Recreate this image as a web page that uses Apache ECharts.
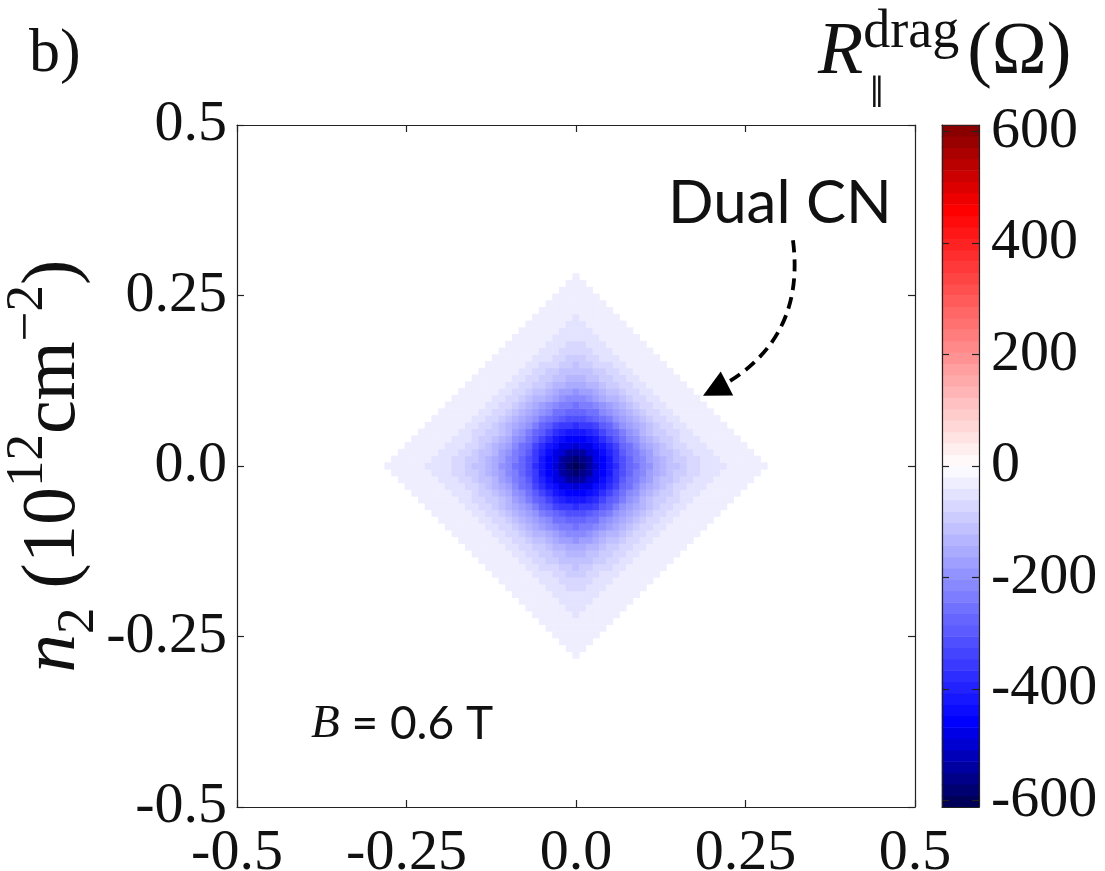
<!DOCTYPE html>
<html>
<head>
<meta charset="utf-8">
<script src="https://cdn.jsdelivr.net/npm/echarts@6/dist/echarts.min.js"></script>
<style>
html, body {margin: 0; padding: 0; background: #fff;}
#chart {width: 1105px; height: 871px;}
</style>
</head>
<body>
<div id="chart"></div>
<script>
// n1, n2 both run -0.5 .. 0.5 (10^12 cm^-2), sampled on 101 cells per side
var n_cells = 101;
var axis_ticks = [-0.5, -0.25, 0.0, 0.25, 0.5];
var cbar_ticks = [-600, -400, -200, 0, 200, 400, 600];
var cbar_min = -612;
var cbar_max = 612;
var cbar_bands = 60;

// R_drag (Ohm), one quadrant: row = |n2| cell offset, column = |n1| cell offset
// from the origin (the map is mirror symmetric about both axes); missing entries are 0
var quadrant = [
    [-600, -585, -545, -495, -455, -415, -370, -325, -285, -248, -214, -184, -158, -137, -119, -104, -91, -79, -69, -61, -54, -47, -41, -37, -33, -30, -27, -25, -23],
    [-585, -568, -533, -489, -450, -411, -366, -320, -279, -241, -206, -176, -151, -130, -112, -97, -84, -73, -64, -56, -49, -42, -38, -33, -30, -27, -25, -23],
    [-545, -533, -504, -471, -436, -398, -352, -306, -265, -227, -193, -164, -140, -120, -103, -89, -76, -66, -58, -50, -43, -38, -34, -30, -27, -25, -23],
    [-495, -489, -471, -445, -415, -373, -327, -285, -245, -209, -177, -150, -128, -109, -94, -80, -68, -60, -52, -44, -38, -34, -30, -27, -25, -23],
    [-455, -450, -436, -415, -380, -339, -299, -259, -222, -188, -158, -134, -115, -98, -83, -71, -61, -53, -45, -39, -34, -30, -27, -25, -23],
    [-415, -411, -398, -373, -339, -303, -266, -230, -196, -166, -140, -119, -102, -86, -73, -63, -54, -46, -39, -34, -30, -27, -25, -23],
    [-370, -366, -352, -327, -299, -266, -233, -200, -170, -145, -123, -104, -89, -75, -64, -55, -46, -39, -35, -30, -27, -25, -23],
    [-325, -320, -306, -285, -259, -230, -200, -172, -147, -125, -107, -91, -77, -65, -56, -47, -40, -35, -30, -27, -25, -23],
    [-285, -279, -265, -245, -222, -196, -170, -147, -126, -108, -92, -78, -66, -56, -47, -40, -35, -30, -27, -25, -23],
    [-248, -241, -227, -209, -188, -166, -145, -125, -108, -92, -78, -66, -57, -48, -40, -35, -30, -27, -25, -23],
    [-214, -206, -193, -177, -158, -140, -123, -107, -92, -78, -67, -57, -48, -40, -35, -30, -27, -25, -23],
    [-184, -176, -164, -150, -134, -119, -104, -91, -78, -66, -57, -48, -40, -35, -30, -27, -25, -23],
    [-158, -151, -140, -128, -115, -102, -89, -77, -66, -57, -48, -40, -35, -30, -27, -25, -23],
    [-137, -130, -120, -109, -98, -86, -75, -65, -56, -48, -40, -35, -30, -27, -25, -23],
    [-119, -112, -103, -94, -83, -73, -64, -56, -47, -40, -35, -30, -27, -25, -23],
    [-104, -97, -89, -80, -71, -63, -55, -47, -40, -35, -30, -27, -25, -23],
    [-91, -84, -76, -68, -61, -54, -46, -40, -35, -30, -27, -25, -23],
    [-79, -73, -66, -60, -53, -46, -39, -35, -30, -27, -25, -23],
    [-69, -64, -58, -52, -45, -39, -35, -30, -27, -25, -23],
    [-61, -56, -50, -44, -39, -34, -30, -27, -25, -23],
    [-54, -49, -43, -38, -34, -30, -27, -25, -23],
    [-47, -42, -38, -34, -30, -27, -25, -23],
    [-41, -38, -34, -30, -27, -25, -23],
    [-37, -33, -30, -27, -25, -23],
    [-33, -30, -27, -25, -23],
    [-30, -27, -25, -23],
    [-27, -25, -23],
    [-25, -23],
    [-23]
];

// annotation arrow, in (n1, n2)
var arrow_from = [0.32, 0.331];
var arrow_to = [0.205, 0.112];

// seismic-like map, position in [-1, 1] of the colour range
var cmap_stops = [
    [-1.0, [0, 0, 77]],
    [-0.75, [0, 0, 255]],
    [0.0, [255, 255, 255]],
    [0.75, [255, 0, 0]],
    [1.0, [128, 0, 0]]
];

function cmap(t) {
    for (var i = 1; i < cmap_stops.length; i++) {
        if (t <= cmap_stops[i][0] || i === cmap_stops.length - 1) {
            var a = cmap_stops[i - 1], b = cmap_stops[i];
            var f = Math.min(1, Math.max(0, (t - a[0]) / (b[0] - a[0])));
            var c = a[1].map((v, k) => Math.round(v + f * (b[1][k] - v)));
            return `rgb(${c[0]},${c[1]},${c[2]})`;
        }
    }
}

var band_step = (cbar_max - cbar_min) / cbar_bands;
var pieces = [];
var band_mids = [];
for (var i = 0; i < cbar_bands; i++) {
    var lo = cbar_min + i * band_step;
    var mid = lo + band_step / 2;
    band_mids.push(mid);
    pieces.push({gte: lo, lt: lo + band_step, color: cmap(mid / cbar_max)});
}

var cells = [];
for (var i = 0; i < n_cells; i++) cells.push(i);
var center = (n_cells - 1) / 2;
var map_data = [];
cells.forEach(ix => {
    cells.forEach(iy => {
        var row = quadrant[Math.abs(iy - center)];
        var v = row ? row[Math.abs(ix - center)] : undefined;
        if (v) map_data.push([ix, iy, v]);
    });
});
var cbar_data = band_mids.map((m, k) => [0, k, m]);

var serif = '"Liberation Serif", "DejaVu Serif", serif';
var tick_font = {fontFamily: serif, fontSize: 58, color: '#111'};
var frame = {show: true, onZero: false, lineStyle: {color: '#222', width: 1.2}};
var in_ticks = {show: true, inside: true, length: 7, lineStyle: {color: '#222', width: 1.2}};

function fmt(v) {
    return v === 0 ? '0.0' : String(v);
}
function num_axis(grid, pos, labels) {
    return {
        gridIndex: grid, type: 'value', min: -0.5, max: 0.5, interval: 0.25, position: pos, z: 5,
        axisLine: frame, axisTick: in_ticks, splitLine: {show: false},
        axisLabel: Object.assign({show: labels, margin: (pos === 'bottom' ? 18 : 10), formatter: fmt}, tick_font),
    };
}
function frame_axis(grid, pos) {
    return {
        gridIndex: grid, type: 'value', min: 0, max: 1, position: pos, z: 5, axisLine: frame,
        axisTick: {show: false}, axisLabel: {show: false}, splitLine: {show: false},
    };
}

var chart = echarts.init(document.getElementById('chart'));
chart.setOption({
    animation: false,
    backgroundColor: '#fff',
    grid: [
        {left: 237, top: 125, width: 678, height: 682, outerBoundsMode: 'none', containLabel: false},
        {left: 942, top: 125, width: 37, height: 682, outerBoundsMode: 'none', containLabel: false},
    ],
    xAxis: [
        {gridIndex: 0, type: 'category', data: cells, show: false},
        num_axis(0, 'bottom', true),
        num_axis(0, 'top', false),
        {gridIndex: 1, type: 'category', data: ['cb'], show: false},
        frame_axis(1, 'bottom'),
        frame_axis(1, 'top'),
    ],
    yAxis: [
        {gridIndex: 0, type: 'category', data: cells, show: false},
        num_axis(0, 'left', true),
        num_axis(0, 'right', false),
        {gridIndex: 1, type: 'category', data: band_mids.map((m, k) => k), show: false},
        {gridIndex: 1, type: 'value', min: cbar_min, max: cbar_max, position: 'right', z: 5,
            axisLine: frame, splitLine: {show: false},
            axisTick: Object.assign({customValues: cbar_ticks}, in_ticks),
            axisLabel: Object.assign({customValues: cbar_ticks, margin: 12}, tick_font)},
        {gridIndex: 1, type: 'value', min: cbar_min, max: cbar_max, position: 'left', z: 5,
            axisLine: frame, splitLine: {show: false},
            axisTick: Object.assign({customValues: cbar_ticks}, in_ticks),
            axisLabel: {show: false}},
    ],
    visualMap: {
        type: 'piecewise', show: false, seriesIndex: [0, 1], dimension: 2, pieces: pieces,
    },
    series: [
        {type: 'heatmap', xAxisIndex: 0, yAxisIndex: 0, data: map_data, silent: true},
        {type: 'heatmap', xAxisIndex: 3, yAxisIndex: 3, data: cbar_data, silent: true},
        {
            type: 'lines', coordinateSystem: 'cartesian2d', xAxisIndex: 1, yAxisIndex: 1, silent: true, z: 6,
            symbol: ['none', 'triangle'], symbolSize: 27,
            lineStyle: {color: '#000', width: 3.8, type: [12, 7], curveness: 0.35, opacity: 1},
            data: [{coords: [arrow_from, arrow_to]}],
        },
    ],
    graphic: [
        {type: 'text', left: 29, top: 24, style: {text: 'b)', font: '62px ' + serif, fill: '#111'}},
        {
            type: 'text', x: 54, y: 466, rotation: Math.PI / 2,
            style: {
                text: '{it|n}{sub|2}{n| (10}{sup|12}{n|cm}{sup|\u22122}{n|)}',
                align: 'center', verticalAlign: 'middle', fill: '#111',
                rich: {
                    it: {fontFamily: serif, fontStyle: 'italic', fontSize: 77, lineHeight: 104},
                    n: {fontFamily: serif, fontSize: 76, lineHeight: 104},
                    sup: {fontFamily: serif, fontSize: 53, lineHeight: 53, verticalAlign: 'top'},
                    sub: {fontFamily: serif, fontSize: 53, lineHeight: 53, verticalAlign: 'bottom'},
                }
            }
        },
        {
            type: 'text', left: 818, top: 6,
            style: {
                text: '{it|R}{sup|drag}{n|(\u03a9)}', fill: '#111',
                rich: {
                    it: {fontFamily: serif, fontStyle: 'italic', fontSize: 74, lineHeight: 96},
                    n: {fontFamily: serif, fontSize: 74, lineHeight: 96, padding: [0, 0, 0, 8]},
                    sup: {fontFamily: serif, fontSize: 54, lineHeight: 54, verticalAlign: 'top'},
                }
            }
        },
        {type: 'text', left: 869, top: 76, style: {text: '\u2225', font: '32px "DejaVu Sans"', fill: '#111'}},
        {type: 'text', left: 668, top: 174, style: {text: 'Dual CN', font: '60px Lato', fill: '#111'}},
        {
            type: 'text', left: 311, top: 701,
            style: {
                text: '{it|B}{n| = 0.6 T}', fill: '#111',
                rich: {
                    it: {fontFamily: serif, fontStyle: 'italic', fontSize: 47},
                    n: {fontFamily: 'Lato', fontSize: 46},
                }
            }
        },
    ],
});
</script>
</body>
</html>
